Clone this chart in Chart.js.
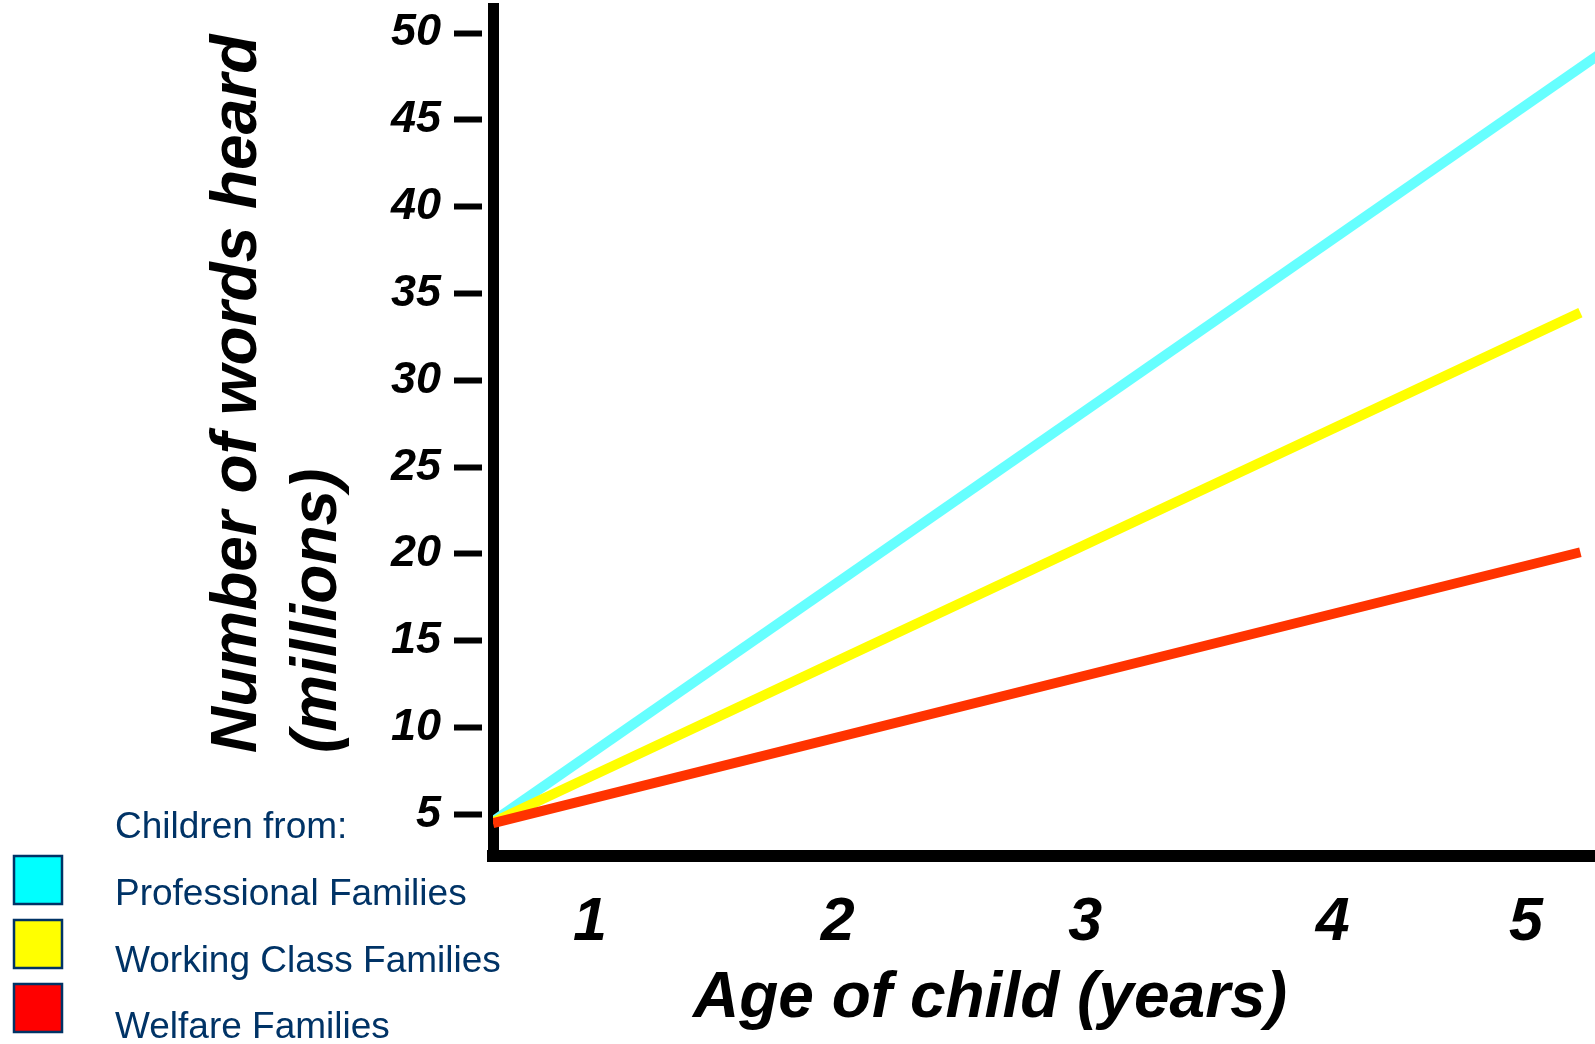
<!DOCTYPE html>
<html><head><meta charset="utf-8">
<script src="https://cdn.jsdelivr.net/npm/chart.js@4.4.1/dist/chart.umd.min.js"></script>
<style>html,body{margin:0;padding:0;background:#fff;overflow:hidden}canvas{display:block}</style>
</head><body>
<canvas id="c" width="1595" height="1044"></canvas>
<script>
// ---- data ----
const seriesNames = ['Professional Families', 'Working Class Families', 'Welfare Families'];
const ageStart = [0.608, 0.608, 0.608];
const ageEnd = [5.08, 5.0, 5.0];
const wordsStart = [4.6, 4.55, 4.5];
const wordsEnd = [48.8, 33.9, 20.1];
const xTickLabels = ['1', '2', '3', '4', '5'];
const xTickValues = [1, 2, 3, 4, 4.78];
const yTickValues = [5, 10, 15, 20, 25, 30, 35, 40, 45, 50];
const xTitle = 'Age of child (years)';
const yTitleLines = ['Number of words heard', '(millions)'];
const legendTitle = 'Children from:';

// ---- styles ----
const lineColors = ['#66FFFF', '#FFFF00', '#FF3300'];
const legendColors = ['#00FFFF', '#FFFF00', '#FF0000'];
const FONT = '"Liberation Sans", Arial, sans-serif';
const X_MIN = 0.608, X_MAX = 5.059, Y_MIN = 2.61, Y_MAX = 51.44;

const datasets = seriesNames.map((name, i) => ({
  label: name,
  data: [{x: ageStart[i], y: wordsStart[i]}, {x: ageEnd[i], y: wordsEnd[i]}],
  borderColor: lineColors[i],
  backgroundColor: lineColors[i],
  borderWidth: 10,
  borderCapStyle: 'butt',
  pointRadius: 0,
  tension: 0,
  fill: false,
  order: 3 - i
}));

const annot = {
  id: 'annot',
  afterDraw(chart) {
    const ctx = chart.ctx;
    ctx.save();
    ctx.fillStyle = '#000';
    ctx.font = 'italic bold 64px ' + FONT;
    ctx.textAlign = 'center';
    ctx.textBaseline = 'alphabetic';
    ctx.fillText(xTitle, 990, 1017);
    ctx.font = 'italic bold 64px ' + FONT;
    const yx = [238, 318];
    yTitleLines.forEach((t, i) => {
      ctx.save();
      ctx.translate(yx[i], 753);
      ctx.rotate(-Math.PI / 2);
      ctx.textAlign = 'left';
      ctx.textBaseline = 'middle';
      ctx.fillText(t, 0, 0);
      ctx.restore();
    });
    ctx.font = '37px ' + FONT;
    ctx.textAlign = 'left';
    ctx.textBaseline = 'alphabetic';
    ctx.fillStyle = '#003366';
    ctx.fillText(legendTitle, 115, 838);
    seriesNames.forEach((n, i) => {
      const top = 856 + i * 64;
      ctx.fillStyle = legendColors[i];
      ctx.fillRect(14, top, 48, 48);
      ctx.strokeStyle = '#003366';
      ctx.lineWidth = 2.5;
      ctx.strokeRect(14, top, 48, 48);
      ctx.fillStyle = '#003366';
      ctx.fillText(n, 115, 905 + i * 66.5);
    });
    ctx.restore();
  }
};

new Chart(document.getElementById('c'), {
  type: 'line',
  data: {datasets},
  plugins: [annot],
  options: {
    responsive: false,
    animation: false,
    devicePixelRatio: 1,
    layout: {padding: {top: 8, left: 0, right: 0, bottom: 0}},
    plugins: {legend: {display: false}, tooltip: {enabled: false}, title: {display: false}},
    scales: {
      x: {
        type: 'linear', position: 'bottom', min: X_MIN, max: X_MAX,
        afterBuildTicks: s => { s.ticks = xTickValues.map(v => ({value: v})); },
        afterFit: s => { s.height = 188; s.paddingLeft = 0; s.paddingRight = 0; },
        grid: {display: false, drawTicks: false},
        border: {display: true, color: '#000', width: 12},
        ticks: {
          font: {family: FONT, size: 61, weight: 'bold', style: 'italic'},
          color: '#000', padding: 31, maxRotation: 0, autoSkip: false,
          callback: (v, i) => xTickLabels[i]
        }
      },
      y: {
        type: 'linear', position: 'left', min: Y_MIN, max: Y_MAX,
        afterBuildTicks: s => { s.ticks = yTickValues.map(v => ({value: v})); },
        afterFit: s => { s.width = 493; s.paddingTop = 0; s.paddingBottom = 0; },
        grid: {display: true, drawOnChartArea: false, drawTicks: true, tickLength: 39,
               tickWidth: 6, tickColor: '#000', tickBorderDash: [28, 6], tickBorderDashOffset: 0},
        border: {display: true, color: '#000', width: 11},
        ticks: {
          font: {family: FONT, size: 45, weight: 'bold', style: 'italic'},
          color: '#000', padding: 13, autoSkip: false,
          callback: v => String(v)
        }
      }
    }
  }
});
</script>
</body></html>
